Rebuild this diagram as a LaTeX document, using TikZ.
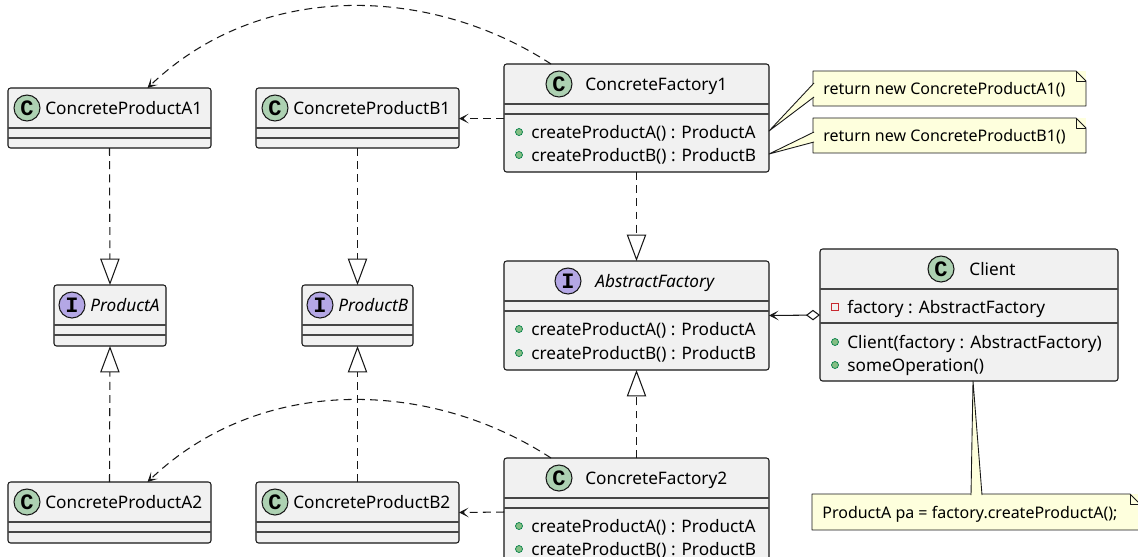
\documentclass[tikz,border=0pt]{standalone}
\usepackage{fontspec}
\setmainfont{Noto Sans}
\newfontfamily\iconfont{Liberation Mono}
\usepackage{tikz}
\usetikzlibrary{calc}
\usetikzlibrary{positioning}
\usetikzlibrary{arrows.meta}

\definecolor{umlline}{HTML}{181818}
\definecolor{umlfill}{HTML}{F1F1F1}
\definecolor{classicon}{HTML}{ADD1B2}
\definecolor{ifaceicon}{HTML}{B4A7E5}
\definecolor{notefill}{HTML}{FEFFDD}
\definecolor{pubfill}{HTML}{84BE84}
\definecolor{publine}{HTML}{038048}
\definecolor{privline}{HTML}{C82930}

\begin{document}
\begin{tikzpicture}[x=0.02cm, y=-0.02cm]
		
		\def\pix{0.02cm} % one pixel of the layout
		
		\tikzset{
			classbox/.style={draw=umlline, fill=umlfill, line width=0.6pt, rounded corners=1.5pt, inner sep=0pt, outer sep=0pt},
			sepline/.style={draw=umlline!80, line width=0.8pt},
			iconC/.style={circle, draw=umlline, fill=classicon, line width=0.6pt, minimum size=26*\pix, inner sep=0pt, font=\iconfont\bfseries\fontsize{12.5}{12.5}\selectfont},
			iconI/.style={iconC, fill=ifaceicon},
			classtitle/.style={anchor=west, inner sep=0pt, text height=7pt, text depth=0pt, font=\fontsize{9.8}{12}\selectfont},
			membertext/.style={classtitle},
			vispub/.style={circle, draw=publine, fill=pubfill, line width=0.4pt, minimum size=7*\pix, inner sep=0pt},
			vispriv/.style={rectangle, draw=privline, line width=0.5pt, minimum size=7*\pix, inner sep=0pt},
			notebox/.style={fill=notefill, inner sep=0pt, outer sep=0pt},
			noteline/.style={draw=umlline, line width=0.5pt, line join=round},
			notetext/.style={anchor=west, inner sep=0pt, text height=7pt, text depth=0pt, font=\fontsize{9.1}{11}\selectfont},
			dep/.style={draw=umlline, line width=0.6pt, dash pattern=on 4.5pt off 3pt, -{Stealth[length=5.5pt, width=5.5pt, inset=3pt]}},
			realize/.style={draw=umlline, line width=0.6pt, dash pattern=on 4.5pt off 3pt, -{Triangle[open, length=15pt, width=11pt]}},
			aggr/.style={draw=umlline, line width=0.6pt, {Stealth[length=5.5pt, width=5.5pt, inset=3pt]}-{Diamond[open, length=8pt, width=6pt]}}
		}
		
		% --- class box: [second rule]{name}{top left}{w}{h}{C/I}{icon x}{title x}{title} ---
		\newcommand{\umlclass}[9][50]{
			\node[classbox, minimum width=#4*\pix, minimum height=#5*\pix, anchor=north west] (#2) at #3 {};
			\draw[sepline] ($(#2.north west)+(0,40)$) -- ($(#2.north east)+(0,40)$);
			\draw[sepline] ($(#2.north west)+(0,#1)$) -- ($(#2.north east)+(0,#1)$);
			\node[icon#6] (#2-icon) at ($(#2.north west)+(#7,20)$) {#6};
			\node[classtitle] (#2-title) at ($(#2.north west)+(#8,20)$) {#9};
		}
		
		% --- one field or method: {class}{y}{pub/priv}{text} ---
		\newcommand{\member}[4]{
			\node[vis#3] (#1-v#2) at ($(#1.north west)+(15,#2)$) {};
			\node[membertext] (#1-m#2) at ($(#1.north west)+(27,#2)$) {#4};
		}
		
		% --- note with folded corner: {name}{top left}{w}{h}{text} ---
		\newcommand{\umlnote}[5]{
			\node[notebox, minimum width=#3*\pix, minimum height=#4*\pix, anchor=north west] (#1) at #2 {};
			\draw[noteline] (#1.north west) -- ($(#1.north east)+(-10,0)$) -- ($(#1.north east)+(0,10)$) -- (#1.south east) -- (#1.south west) -- cycle;
			\draw[noteline] ($(#1.north east)+(-10,0)$) -- ($(#1.north east)+(-10,10)$) -- ($(#1.north east)+(0,10)$);
			\node[notetext] (#1-text) at ($(#1.west)+(10,0)$) {#5};
		}
		
		% --- wedge from a class to its note: {tip}{side}{side} ---
		\newcommand{\notelink}[3]{
			\fill[notefill] #1 -- #2 -- #3 -- cycle;
			\draw[noteline] #2 -- #1 -- #3;
		}
		
		\useasboundingbox (0,0) rectangle (1138,556);
		\clip (0,0) rectangle (1138,556);
		\fill[white] (0,0) rectangle (1138,556);
		
		% Classes
		\umlclass{CPA1}{(8,88)}{203}{60}{C}{19}{37}{ConcreteProductA1}
		\umlclass{CPB1}{(256,88)}{203}{60}{C}{19}{37}{ConcreteProductB1}
		\umlclass{CF1}{(504,64)}{265}{108}{C}{55}{81}{ConcreteFactory1}
		\umlclass{PA}{(54,285)}{112}{61}{I}{18}{36}{\itshape ProductA}
		\umlclass{PB}{(302,285)}{111}{61}{I}{18}{36}{\itshape ProductB}
		\umlclass{AF}{(504,261)}{265}{109}{I}{64}{91}{\itshape AbstractFactory}
		\umlclass[74]{Client}{(820,249)}{298}{132}{C}{121}{149}{Client}
		\umlclass{CPA2}{(8,482)}{203}{61}{C}{19}{37}{ConcreteProductA2}
		\umlclass{CPB2}{(256,482)}{203}{61}{C}{19}{37}{ConcreteProductB2}
		\umlclass{CF2}{(504,458)}{265}{108}{C}{55}{81}{ConcreteFactory2}
		
		% Members
		\member{CF1}{68}{pub}{createProductA() : ProductA}
		\member{CF1}{91}{pub}{createProductB() : ProductB}
		\member{AF}{68}{pub}{createProductA() : ProductA}
		\member{AF}{92}{pub}{createProductB() : ProductB}
		\member{CF2}{68}{pub}{createProductA() : ProductA}
		\member{CF2}{91}{pub}{createProductB() : ProductB}
		\member{Client}{58}{priv}{factory : AbstractFactory}
		\member{Client}{93}{pub}{Client(factory : AbstractFactory)}
		\member{Client}{116}{pub}{someOperation()}
		
		% Notes
		\umlnote{N1}{(813,71)}{273}{35}{return new ConcreteProductA1()}
		\umlnote{N2}{(813,118)}{273}{35}{return new ConcreteProductB1()}
		\umlnote{N3}{(812,494)}{328}{36}{ProductA pa = factory.createProductA();}
		\notelink{($(CF1.north east)+(0,67)$)}{($(N1.north west)+(1,12)$)}{($(N1.north west)+(1,26)$)}
		\notelink{($(CF1.north east)+(0,90)$)}{($(N2.north west)+(1,14)$)}{($(N2.north west)+(1,24)$)}
		\notelink{($(Client.south)+(4,0)$)}{($(N3.north west)+(159,1)$)}{($(N3.north west)+(170,1)$)}
		
		% Dependencies
		\draw[dep] ($(CF1.north west)+(47,0)$) .. controls +(-121,-79) and +(113,-108) .. ($(CPA1.north)+(38,0)$);
		\draw[dep] ($(CF1.west)+(0,0.5)$) -- ($(CPB1.east)+(0,0.5)$);
		\draw[dep] ($(CF2.north west)+(47,0)$) .. controls +(-121,-79) and +(113,-108) .. ($(CPA2.north)+(38,0)$);
		\draw[dep] (CF2.west) -- (CPB2.east);
		
		% Realizations
		\draw[realize] (CPA1.south) -- (PA.north);
		\draw[realize] (CPB1.south) -- (PB.north);
		\draw[realize] (CPA2.north) -- (PA.south);
		\draw[realize] (CPB2.north) -- (PB.south);
		\draw[realize] (CF1.south) -- (AF.north);
		\draw[realize] (CF2.north) -- (AF.south);
		
		% Aggregation
		\draw[aggr] (AF.east) -- (Client.west);
		
	\end{tikzpicture}
\end{document}
